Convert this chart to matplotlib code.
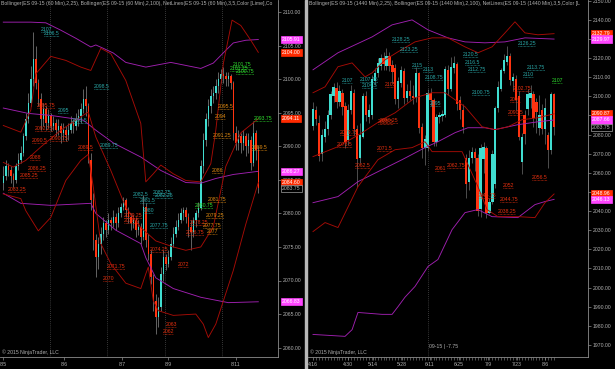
import numpy as np
import matplotlib
matplotlib.use("Agg")
import matplotlib.pyplot as plt
from matplotlib.patches import Rectangle

plt.rcParams['font.family'] = ['Liberation Sans', 'DejaVu Sans']

# ======================
# Colours
# ======================
TEAL = "#40ddd0"
RED = "#ff3310"
BAND_RED = "#a60c06"
BAND_MAG = "#a020b0"
GRID = "#6a6a6a"
TXT = "#b0b0b0"
LBL = {"teal": "#2aa8a8", "red": "#e8300f", "orange": "#e08a10", "green": "#2ee02e"}
FS = 3.7

# ======================
# Left panel: ES 09-15, 60 min
# ======================
L_CLOSE = [2085.5, 2087, 2086.5, 2085.5, 2085, 2087, 2088, 2089, 2091.5, 2094,
           2096.5, 2100, 2103, 2099.5, 2097, 2094, 2095.5, 2093.5, 2094.5, 2093,
           2093.5, 2092.5, 2093, 2092, 2092.5, 2091.75, 2092.5, 2093.5, 2093, 2094,
           2094.5, 2095.5, 2097, 2096, 2088, 2082, 2076, 2073.5, 2075.5, 2077,
           2078.5, 2077.5, 2079, 2078.5, 2079.5, 2078.5, 2080, 2081, 2082, 2080.5,
           2079.5, 2078.5, 2079, 2077.5, 2078, 2076.5, 2081, 2076, 2074, 2070.5,
           2067, 2064.5, 2066, 2071, 2073.5, 2072.5, 2073.5, 2075.5, 2077, 2078,
           2079, 2080, 2080.5, 2079.5, 2078, 2077.25, 2079, 2080, 2080.75, 2087,
           2091, 2094, 2096, 2097.5, 2098, 2099, 2100, 2100.75, 2100.5, 2100,
           2100.5, 2099.5, 2092, 2090.5, 2091.5, 2090.5, 2091.5, 2090, 2091, 2087.5,
           2092, 2089.5, 2083.75]
L_FIRST_OPEN = 2084.5
L_HIGH = [2087, 2088, 2087.5, 2087, 2086, 2087.5, 2089, 2090, 2092, 2095,
          2098, 2102, 2107, 2105, 2100, 2098, 2096.5, 2096, 2095.5, 2095,
          2094.5, 2094, 2094, 2093.5, 2093.5, 2093, 2093.5, 2094.5, 2094, 2095,
          2095.5, 2096.5, 2098.5, 2099, 2096.5, 2089, 2083, 2077, 2076.5, 2078,
          2079.5, 2079, 2080, 2079.5, 2080.5, 2080, 2081, 2081.5, 2082.5, 2082.25,
          2081, 2080, 2079.75, 2079.5, 2079, 2078.5, 2082.75, 2081.5, 2077, 2074.5,
          2071, 2068, 2067.5, 2072, 2074.5, 2074, 2074.5, 2076.5, 2078, 2079,
          2080, 2080.75, 2081, 2081, 2080, 2079, 2079.5, 2080.5, 2081.75, 2088,
          2092, 2095, 2097, 2098.5, 2099, 2100, 2101, 2101.5, 2101.75, 2101,
          2101, 2100.75, 2099.75, 2093, 2092.5, 2092, 2092.5, 2092, 2092, 2091.5,
          2093.75, 2092.5, 2090]
L_LOW = [2083.5, 2085, 2085.5, 2084.5, 2084, 2084.5, 2086.5, 2087.5, 2088.5, 2091,
         2093.5, 2096, 2099, 2098.5, 2096, 2092.5, 2093, 2092.5, 2092.75, 2092.25,
         2092.5, 2091.5, 2091.75, 2090.5, 2091, 2090.75, 2091, 2092, 2092, 2092.5,
         2093, 2093.5, 2095, 2094.5, 2087.5, 2080.5, 2074.5, 2070.5, 2071.75, 2074,
         2076, 2076.5, 2077, 2077.5, 2078, 2077.5, 2078, 2079.5, 2080.5, 2079.5,
         2078.5, 2077.5, 2077.75, 2076.5, 2076.75, 2075.5, 2076, 2075, 2073, 2069.5,
         2065.5, 2062, 2063, 2065.5, 2070, 2071.5, 2072, 2073, 2075, 2076.5,
         2077.5, 2078.5, 2079, 2078.5, 2076.5, 2074.5, 2076.5, 2078, 2079.5, 2080.5,
         2086, 2090, 2093, 2095, 2096.5, 2097, 2098, 2099.5, 2099.5, 2099,
         2099, 2098.5, 2091, 2089.5, 2089.5, 2089, 2089.5, 2088.5, 2089, 2086.5,
         2087, 2088, 2083]

# Bollinger bands as (bar, value) points
L_RED_UP = [(0, 2093.1), (7, 2092.1), (11, 2095.4), (13, 2100.8), (19, 2103.4), (25, 2102.8),
            (31, 2101.8), (35, 2101.3), (39, 2104.6), (43, 2103.8), (49, 2099.8), (55, 2093.4),
            (57, 2084.7), (60, 2085.9), (63, 2087.2), (68, 2085.9), (73, 2084.9), (79, 2084.7),
            (83, 2087.4), (85, 2092.4), (88, 2102.3), (91.5, 2108.8), (95, 2108.0), (99, 2105.8),
            (102, 2104.0)]
L_RED_MID = [(0, 2087.6), (4, 2086.9), (9, 2087.9), (15, 2089.9), (23, 2092.4), (31, 2094.4),
             (34, 2095.1), (37, 2091.4), (43, 2086.4), (49, 2080.9), (55, 2077.9), (61, 2075.9),
             (68, 2075.0), (73, 2074.5), (79, 2075.0), (84, 2078.0), (89, 2087.0), (95, 2092.0),
             (102, 2094.11)]
L_RED_LO = [(0, 2082.9), (7, 2082.2), (9, 2080.4), (14, 2077.4), (19, 2079.4), (25, 2084.9),
            (31, 2087.9), (34, 2088.8), (36, 2083.9), (39, 2075.5), (43, 2072.5), (49, 2069.6),
            (55, 2068.8), (57, 2071.0), (58, 2072.0), (60, 2067.0), (62, 2065.5), (68, 2064.8),
            (77, 2065.0), (80, 2063.5), (82, 2061.5), (85, 2063.5), (92, 2071.5), (97, 2078.4),
            (102, 2084.6)]
L_MAG_UP = [(0, 2108.5), (11, 2108.5), (17, 2108.4), (23, 2107.3), (29, 2106.1), (35, 2104.8),
            (37, 2105.1), (40, 2104.6), (44, 2103.9), (49, 2102.5), (57, 2101.8), (67, 2102.5),
            (79, 2101.6), (84, 2102.4), (89, 2104.3), (92, 2105.4), (97, 2105.8), (102, 2105.91)]
L_MAG_MID = [(0, 2095.7), (10, 2094.9), (19, 2094.6), (32, 2093.9), (37, 2092.4), (44, 2090.5),
             (55, 2088.4), (63, 2086.4), (73, 2084.6), (79, 2084.5), (85, 2085.2), (92, 2085.8),
             (102, 2086.27)]
L_MAG_LO = [(0, 2083.0), (7, 2081.5), (19, 2081.2), (35, 2081.5), (37, 2080.0), (45, 2077.5),
            (55, 2075.5), (57, 2073.4), (61, 2070.4), (68, 2068.8), (79, 2067.5), (90, 2066.7),
            (102, 2066.83)]

# NetLines swing labels: (text, bar, colour)
L_LABELS = [("2107", 15.1, "teal"), ("2106.5", 16.3, "teal"), ("2098.5", 36.3, "teal"),
            ("2095", 21.9, "teal"), ("2093.5", 27.5, "teal"), ("2089.75", 38.7, "teal"),
            ("2082.5", 51.9, "teal"), ("2082.75", 59.9, "teal"), ("2082.25", 60.7, "teal"),
            ("2081.5", 54.7, "teal"), ("2080", 55.9, "teal"), ("2077.75", 58.7, "teal"),
            ("2095.75", 13.5, "red"), ("2092.25", 12.7, "red"), ("2090.5", 11.5, "red"),
            ("2090.75", 18.7, "red"), ("2089.5", 29.9, "red"), ("2088", 10.7, "red"),
            ("2086.25", 9.9, "red"), ("2085.25", 6.7, "red"), ("2083.25", 1.9, "red"),
            ("2079.25", 48.3, "red"), ("2078.5", 48.3, "red"), ("2074.25", 58.7, "red"),
            ("2071.75", 41.5, "red"), ("2070", 39.9, "red"), ("2072", 69.9, "red"),
            ("2063", 65.1, "red"), ("2062", 63.9, "red"), ("2078.25", 74.7, "red"),
            ("2076.75", 73.1, "red"),
            ("2095.5", 85.9, "orange"), ("2094", 84.7, "orange"), ("2091.25", 83.9, "orange"),
            ("2089.5", 99.5, "orange"), ("2086", 83.5, "orange"), ("2081.75", 81.9, "orange"),
            ("2079.25", 81.1, "orange"), ("2077.75", 79.9, "orange"), ("2077", 81.5, "orange"),
            ("2101.75", 91.9, "green"), ("2101.25", 90.7, "green"), ("2100.75", 93.1, "green"),
            ("2093.75", 100.3, "green"), ("2080.75", 76.7, "green")]

L_DATES = ["8/5", "8/6", "8/7", "8/9", "8/11"]
L_DATE_BARS = [0, 24.3, 47.5, 65.9, 93.1]
L_SESSION_BREAKS = [18.7, 41.5, 64.7, 87.5]
L_YTICKS = list(range(2060, 2111, 5))

# ======================
# Right panel: ES 09-15, 1440 min
# ======================
R_OPEN = [2084.5, 2093, 2086, 2070, 2079, 2083, 2090, 2100, 2104.5, 2097,
          2102, 2095, 2077, 2093, 2102, 2083, 2068, 2079, 2100, 2089,
          2090, 2108, 2112, 2116, 2120, 2116, 2121, 2116.5, 2115, 2098.5,
          2107, 2113.5, 2099, 2103, 2100, 2099, 2112, 2084, 2073, 2073,
          2102, 2098, 2076, 2089, 2089.5, 2090.5, 2114, 2104, 2115, 2117,
          2098, 2093, 2068, 2055, 2068, 2071, 2068, 2041, 2067, 2073,
          2039, 2045, 2054, 2094, 2104, 2113.5, 2118, 2121, 2108, 2109,
          2100, 2065.5, 2090, 2093.5, 2099, 2101.5, 2097, 2083.5, 2093, 2083,
          2080, 2072, 2101]
R_HIGH = [2097, 2095, 2090, 2083, 2087, 2093, 2103, 2107, 2107.5, 2106,
          2104, 2097, 2096, 2106, 2104, 2085, 2086, 2102, 2103, 2096,
          2111, 2115, 2120, 2122, 2123, 2125.25, 2123.25, 2119, 2117, 2110,
          2116, 2115, 2106.5, 2108.75, 2106, 2115.5, 2113, 2086, 2080, 2104,
          2104.5, 2099, 2091, 2092, 2093, 2116, 2116.5, 2120.5, 2121, 2118,
          2100, 2096, 2070, 2072, 2073.5, 2073, 2070, 2075, 2076, 2074,
          2047, 2072, 2095, 2108, 2115, 2122, 2126.25, 2122.5, 2112, 2111,
          2102.75, 2081, 2093, 2104, 2106, 2103, 2099, 2100.5, 2096, 2099,
          2081.5, 2102.5, 2102]
R_LOW = [2082.5, 2085, 2066, 2066, 2076, 2080, 2088, 2097, 2094, 2095,
         2090, 2073, 2074.5, 2091, 2080, 2052.5, 2065, 2078, 2087, 2086,
         2088, 2106, 2110, 2114, 2114, 2114, 2113.5, 2107, 2096, 2094,
         2105, 2096, 2097, 2098, 2096, 2097, 2081, 2068, 2064, 2071.5,
         2095, 2074, 2074, 2086, 2087, 2089, 2100.75, 2103, 2112, 2093,
         2088, 2081, 2047, 2051, 2065, 2061, 2037.25, 2036.75, 2060, 2036.25,
         2038.5, 2043.5, 2052, 2092, 2103, 2112, 2116.5, 2106, 2103, 2093,
         2077, 2059.5, 2075, 2090, 2094, 2084, 2081, 2080, 2080.5, 2075,
         2062.5, 2070, 2080]
R_CLOSE = [2093.5, 2088, 2069, 2080, 2083, 2090, 2101, 2105, 2097, 2103,
           2094.5, 2076, 2093, 2103, 2083, 2067, 2080, 2100, 2090, 2093,
           2109, 2112, 2117.5, 2120, 2117, 2121, 2116, 2113, 2098.5, 2108,
           2114, 2099, 2103, 2100, 2099, 2112, 2083.5, 2073, 2077.5, 2102,
           2098, 2076, 2089, 2090, 2091, 2114.5, 2104, 2115.5, 2117.5, 2096,
           2093, 2084, 2054, 2068, 2071, 2068, 2040, 2073, 2073.5, 2039,
           2045, 2070, 2094, 2105, 2114, 2119, 2121, 2108.5, 2110, 2098,
           2079, 2079, 2080.5, 2101.5, 2102, 2088.5, 2092, 2090, 2083, 2094,
           2072, 2101.5, 2083.75]

R_RED_UP = [(0, 2101.9), (4.1, 2105.0), (8.5, 2115.5), (13.3, 2117.5), (17.7, 2110.2), (20.1, 2112.3),
            (24.5, 2119.1), (28.9, 2123.3), (34.7, 2128.5), (40.5, 2130.6), (45.9, 2130.6),
            (51.7, 2125.9), (56.1, 2122.8), (60.9, 2125.9), (65.3, 2133.2), (68.7, 2139.0),
            (72.1, 2133.2), (76.5, 2132.2), (82, 2132.79)]
R_RED_MID = [(0, 2068.5), (8.5, 2073.7), (16.7, 2081.0), (23.5, 2087.8), (27.9, 2091.4), (34.7, 2099.3),
             (40.5, 2101.9), (44.9, 2101.9), (51.7, 2094.6), (57.5, 2084.1), (61.9, 2082.6),
             (66.3, 2084.1), (71.1, 2087.8), (76.5, 2088.8), (82, 2090.87)]
R_RED_LO = [(0, 2029.3), (4.1, 2034.0), (8.5, 2031.4), (15.3, 2052.8), (22.1, 2066.9), (27.9, 2072.1),
            (33.7, 2073.2), (38.1, 2076.3), (40.5, 2071.1), (50.7, 2071.1), (56.1, 2052.8),
            (59.2, 2040.8), (62.9, 2037.1), (69.7, 2037.1), (75.5, 2036.6), (78.9, 2044.4),
            (82, 2048.96)]
R_MAG_UP = [(0, 2113.9), (8.5, 2122.8), (20.1, 2131.1), (26.9, 2137.4), (33.7, 2140.0), (39.1, 2134.8),
            (45.9, 2130.6), (51.7, 2128.5), (58.5, 2128.0), (65.3, 2128.5), (72.1, 2130.6),
            (82, 2129.97)]
R_MAG_MID = [(0, 2044.4), (8.5, 2047.6), (15.3, 2055.4), (23.5, 2061.7), (30.3, 2066.9), (38.1, 2073.2),
             (42.5, 2076.3), (48.3, 2081.0), (52.7, 2083.6), (58.5, 2083.6), (61.9, 2082.6),
             (69.7, 2085.2), (76.5, 2086.7), (82, 2087.66)]
R_MAG_LO = [(0, 1975.5), (10.9, 1974.5), (13.3, 1978.0), (15.3, 1987.0), (23.5, 1986.0), (26.9, 1986.0),
            (28.9, 1990.0), (31.3, 1995.0), (34.7, 2000.6), (39.1, 2011.0), (42.5, 2014.7),
            (47.3, 2030.3), (51.7, 2039.2), (56.1, 2040.8), (60.9, 2037.1), (69.7, 2036.6),
            (75.5, 2043.4), (78.9, 2045.0), (82, 2046.13)]

R_LABELS = [("2128.25", 26.9, "teal"), ("2123.25", 29.6, "teal"), ("2115", 33.7, "teal"),
            ("2113", 37.4, "teal"), ("2108.75", 38.1, "teal"), ("2107", 9.9, "teal"),
            ("2107.75", 16.0, "teal"), ("2104.5", 16.7, "teal"), ("2120.5", 51.0, "teal"),
            ("2116.5", 51.7, "teal"), ("2112.75", 52.7, "teal"), ("2100.75", 54.1, "teal"),
            ("2126.25", 69.7, "teal"), ("2113.75", 72.8, "teal"), ("2110", 71.4, "teal"),
            ("2095", 39.8, "teal"),
            ("2105", 24.5, "red"), ("2079.75", 9.2, "red"), ("2073.5", 8.2, "red"),
            ("2062.5", 14.3, "red"), ("2071.5", 21.8, "red"), ("2086.25", 22.8, "red"),
            ("2085.5", 22.0, "red"), ("2061", 41.5, "red"), ("2062.75", 45.6, "red"),
            ("2046.75", 56.1, "red"), ("2052", 64.6, "red"), ("2044.75", 63.6, "red"),
            ("2038.25", 62.9, "red"), ("2102.75", 68.0, "red"), ("2097", 67.0, "red"),
            ("2090.5", 66.3, "red"), ("2056.5", 74.5, "red"),
            ("2107", 81.3, "green")]

R_DATES = ["4/16", "4/30", "5/14", "5/28", "6/11", "6/25", "7/9", "7/23", "8/6"]
R_DATE_BARS = [0, 11.9, 20.4, 30.3, 39.8, 49.7, 59.5, 69.4, 78.9]
R_CURSOR_BAR = 39.1
R_YTICKS = list(range(1970, 2151, 10))

# visible part of the indicator captions (NinjaTrader cuts them at the price axis)
L_CAPTION = ("Bollinger(ES 09-15 (60 Min),2,25), Bollinger(ES 09-15 (60 Min),2,100), "
             "NetLines(ES 09-15 (60 Min),3,5,Color [Lime],Co")
R_CAPTION = ("Bollinger(ES 09-15 (1440 Min),2,25), Bollinger(ES 09-15 (1440 Min),2,100), "
             "NetLines(ES 09-15 (1440 Min),3,5,Color [L")

# ======================
# Drawing helpers
# ======================
W, H = 615, 369


def rect(x0, y0, x1, y1):
    return [x0 / W, 1 - y1 / H, (x1 - x0) / W, (y1 - y0) / H]


def candles(ax, o, h, l, c, width, wick):
    o, h, l, c = map(np.asarray, (o, h, l, c))
    x = np.arange(len(c))
    ax.vlines(x, l, h, color=wick, lw=0.5, zorder=2)
    up = c >= o
    ax.bar(x[up], np.maximum(c - o, 0.15)[up], bottom=o[up], width=width,
           color=TEAL, linewidth=0, zorder=2.5)
    ax.bar(x[~up], (o - c)[~up], bottom=c[~up], width=width,
           color=RED, linewidth=0, zorder=2.5)


def band(ax, pts, color):
    bx, by = zip(*pts)
    ax.plot(bx, by, color=color, lw=0.65, zorder=3)


def swing_labels(ax, labels, px_per_bar):
    for text, bar, col in labels:
        price = float(text)
        c = LBL[col]
        ax.text(bar, price, text, color=c, fontsize=FS, ha="left", va="bottom",
                zorder=4, clip_on=True)
        w = len(text) * 2.5 / px_per_bar
        ax.plot([bar, bar + w], [price, price], color=c, lw=0.5,
                linestyle=(0, (1, 1)), zorder=4)


def marker(ax, value, face, tcolor="white", edge=None):
    ax.annotate(f"{value:.2f}", xy=(1, value), xycoords=("axes fraction", "data"),
                xytext=(4, 0), textcoords="offset pixels", ha="left", va="center",
                fontsize=FS, color=tcolor, zorder=6, annotation_clip=False,
                bbox=dict(boxstyle="square,pad=0.22", fc=face, ec=edge or face, lw=0.5))


def style_axis(ax, yticks):
    ax.set_facecolor("black")
    for s in ("left", "top"):
        ax.spines[s].set_visible(False)
    for s in ("right", "bottom"):
        ax.spines[s].set_color("#8c8c8c")
        ax.spines[s].set_linewidth(0.6)
    ax.yaxis.tick_right()
    ax.set_yticks(yticks)
    ax.set_yticklabels([f"{v:.2f}" for v in yticks])
    ax.tick_params(axis="both", colors="#8c8c8c", labelcolor=TXT, labelsize=FS,
                   length=2.2, width=0.5, pad=1.5)
    ax.tick_params(axis="x", which="minor", colors="#8c8c8c", length=2, width=0.4)


fig = plt.figure(figsize=(W / 100, H / 100), dpi=100, facecolor="black")

# ---------------- left panel ----------------
axL = fig.add_axes(rect(0, 0, 278, 357))
style_axis(axL, L_YTICKS)
L_OPEN = [L_FIRST_OPEN] + L_CLOSE[:-1]  # hourly bars open at the prior close
candles(axL, L_OPEN, L_HIGH, L_LOW, L_CLOSE, 0.62, "#8a8a8a")
for b in L_SESSION_BREAKS:
    axL.axvline(b, color=GRID, lw=0.5, linestyle=(0, (1, 2)), zorder=1)
for pts in (L_MAG_UP, L_MAG_MID, L_MAG_LO):
    band(axL, pts, BAND_MAG)
for pts in (L_RED_UP, L_RED_MID, L_RED_LO):
    band(axL, pts, BAND_RED)
swing_labels(axL, L_LABELS, 2.5)
axL.set_xlim(-1.32, 109.88)
axL.set_ylim(2058.6, 2111.8)
axL.set_xticks(L_DATE_BARS)
axL.set_xticklabels(L_DATES)

marker(axL, L_MAG_UP[-1][1], "#ff44ff")
marker(axL, L_RED_UP[-1][1], "#ff2a00")
marker(axL, L_RED_MID[-1][1], "#ff2a00")
marker(axL, L_MAG_MID[-1][1], "#ff44ff")
marker(axL, L_RED_LO[-1][1], "#ff2a00")
marker(axL, L_CLOSE[-1], "black", TXT, "#a0a0a0")
marker(axL, L_MAG_LO[-1][1], "#ff44ff")

axL.text(0.004, 0.996, L_CAPTION, transform=axL.transAxes, color=TXT, fontsize=FS,
         ha="left", va="top", clip_on=True)
axL.text(0.006, 0.006, "© 2015 NinjaTrader, LLC", transform=axL.transAxes,
         color=TXT, fontsize=FS, ha="left", va="bottom")

# ---------------- right panel ----------------
axR = fig.add_axes(rect(308, 0, 588, 357))
style_axis(axR, R_YTICKS)
candles(axR, R_OPEN, R_HIGH, R_LOW, R_CLOSE, 0.8, "#6c6c6c")
axR.axvline(R_CURSOR_BAR, color=GRID, lw=0.5, linestyle=(0, (1, 2)), zorder=1)
for pts in (R_MAG_UP, R_MAG_MID, R_MAG_LO):
    band(axR, pts, BAND_MAG)
for pts in (R_RED_UP, R_RED_MID, R_RED_LO):
    band(axR, pts, BAND_RED)
swing_labels(axR, R_LABELS, 2.94)
axR.set_xlim(-1.7, 93.54)
axR.set_ylim(1963.7, 2150.4)
axR.set_xticks(R_DATE_BARS)
axR.set_xticklabels(R_DATES)
axR.set_xticks(np.arange(len(R_CLOSE)), minor=True)

marker(axR, R_RED_UP[-1][1], "#ff2a00")
marker(axR, R_MAG_UP[-1][1], "#ff44ff")
marker(axR, R_RED_MID[-1][1], "#ff2a00")
marker(axR, R_MAG_MID[-1][1], "#ff44ff")
marker(axR, R_CLOSE[-1], "black", TXT, "#a0a0a0")
marker(axR, R_RED_LO[-1][1], "#ff2a00")
marker(axR, R_MAG_LO[-1][1], "#ff44ff")

axR.text(0.004, 0.996, R_CAPTION, transform=axR.transAxes, color=TXT, fontsize=FS,
         ha="left", va="top", clip_on=True)
axR.text(0.006, 0.006, "© 2015 NinjaTrader, LLC", transform=axR.transAxes,
         color=TXT, fontsize=FS, ha="left", va="bottom")
axR.text(R_CURSOR_BAR + 0.4, 1969.2, "09-15 | -7.75", color=TXT, fontsize=FS,
         ha="left", va="center")

# panel separator
fig.patches.append(Rectangle((304.5 / W, 0), 2.2 / W, 1, transform=fig.transFigure,
                             color="#b8b8b8", zorder=10))

fig.savefig("out.png", dpi=100, facecolor="black")
